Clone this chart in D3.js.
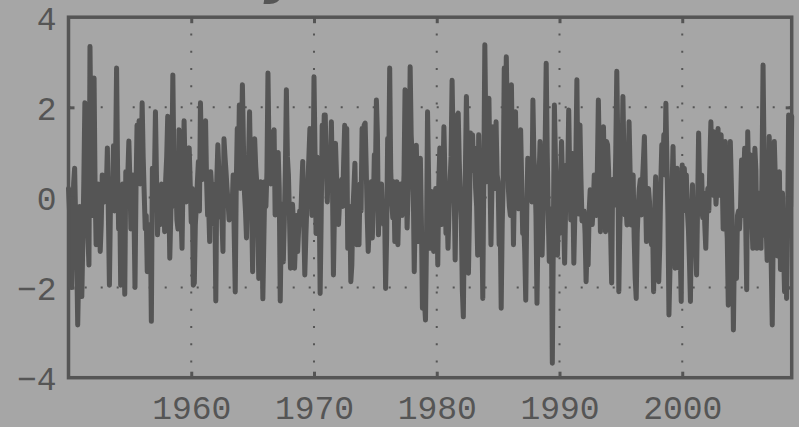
<!DOCTYPE html>
<html>
<head>
  <meta charset="utf-8">
  <title>Monthly index 1950-2008</title>
  <style>
    html, body {
      margin: 0;
      padding: 0;
      background: #a6a6a6;
      overflow: hidden;
    }
    svg { display: block; }
    .tick text {
      font-family: "Liberation Mono", monospace;
      font-size: 33px;
      fill: #555;
    }
  </style>
</head>
<body>
  <svg id="chart" width="799" height="427"></svg>

  <script src="https://d3js.org/d3.v7.min.js"></script>
  <script>
    // monthly values, one row per year (Jan..Dec)
    const v1950s = [
      0.2, -0.3, 0.1, -2.0, -0.8, 0.3, 0.65, -0.5, -1.2, -2.83, -1.6, -0.2,
      -0.6, -2.2, -1.0, 0.4, 2.1, 0.8, -0.3, -0.9, -1.5, 3.35, 1.2, -0.4,
      0.6, 2.65, 0.2, -1.05, -0.5, 0.3, -0.2, -1.2, -0.6, 0.5, 0.1, -0.1,
      0.3, 0.2, 1.1, -0.4, -1.95, -0.2, 0.4, 0.1, 1.15, -0.3, 0.8, 2.87,
      0.6, -0.7, 0.2, -1.95, -0.6, 0.3, -0.9, -2.15, 0.57, -0.1, 0.5, 1.25,
      0.4, -0.7, -0.2, 0.5, -0.3, -2.0, 0.2, 1.6, 0.9, 1.7, 0.3, 0.6,
      2.1, 0.9, 0.1, -0.7, -0.4, -1.65, -0.8, -1.3, -0.6, -2.75, 0.65, -0.2,
      0.4, 1.9, 0.5, -0.83, -0.2, 0.1, -0.6, 0.3, -0.5, 0.1, -0.76, 0.4,
      0.9, 1.8, 0.2, -1.35, -0.4, 0.6, 2.72, 0.8, -0.2, 0.3, -0.5, -0.7,
      1.5, 0.2, -0.4, -1.13, 0.5, 1.7, 0.6, -0.1, 0.4, 0.8, 1.1, 0.3
    ];
    const v1960s = [
      -0.55, 0.2, -1.95, -1.9, -0.6, -0.2, 0.35, 0.8, -0.3, 2.1, 0.9, 0.4,
      0.6, 1.0, 1.7, 0.35, -0.4, -0.2, -0.98, 0.57, 0.2, 0.3, -0.6, 0.1,
      -2.3, 0.4, 1.17, 0.6, 0.35, -0.4, -0.5, -1.2, 1.3, 0.9, 0.57, 0.2,
      -0.1, -0.5, -0.17, -0.3, -0.17, 0.5, -0.8, -2.1, 0.3, 1.53, 0.4, 2.05,
      0.2, 0.9, 2.5, 1.2, 0.1, -0.3, -0.9, 0.4, 0.8, 1.9, 0.6, -0.2,
      -1.65, 0.3, 1.3, 0.7, 0.35, -0.5, -1.8, -0.4, 0.35, -0.6, -2.25, -0.9,
      0.35, -0.2, 0.57, 2.76, 1.1, 0.4, 0.3, 1.46, 0.5, 1.5, -0.39, -0.1,
      0.3, 1.0, 0.2, -2.3, -0.6, -0.15, -1.43, -0.5, 0.6, 2.39, 0.9, 0.5,
      -0.4, -1.57, -0.7, -0.15, -0.6, -1.57, -0.9, -0.4, -1.2, -0.7, -0.3, -0.5,
      0.2, 0.8, -0.6, -1.72, -0.9, -0.2, 0.3, 0.9, 1.53, 0.6, -0.4, 0.3
    ];
    const v1970s = [
      2.68, 1.0, -0.8, 0.9, -0.3, 0.2, -2.13, -0.5, 1.6, 0.6, 1.83, 1.83,
      0.7, -0.1, 0.8, 0.2, 0.65, 1.68, 0.4, -1.72, -0.3, 1.2, 0.5, -0.4,
      -0.6, -0.1, 0.05, 0.4, -0.2, 0.8, 1.6, 0.7, 1.53, -1.13, -0.5, -0.2,
      -1.87, -1.5, -0.3, 0.2, 0.76, -0.6, -1.05, -0.4, -1.05, 0.3, -0.3, 1.53,
      0.5, 1.6, 1.65, 0.7, -0.4, -1.2, -0.6, 0.2, 0.35, -0.9, -0.2, 0.95,
      0.4, 2.16, 1.4, -0.83, 0.2, -0.4, 0.3, -0.4, -0.6, -0.2, -2.02, -0.9,
      1.31, 0.4, 2.87, 0.6, -0.1, -0.45, 0.35, -0.98, -0.3, 0.35, -1.05, -0.1,
      -0.1, 0.3, -0.4, -0.1, 0.5, 2.39, 1.2, -0.68, 0.1, 0.6, 2.9, 1.39,
      0.87, 0.3, -1.65, -0.2, 1.16, 0.2, -0.98, -0.1, 0.87, -0.5, -2.46, -1.8,
      -2.3, -2.72, -0.9, 1.9, 0.5, -1.13, 0.1, 0.13, -0.5, -1.2, -0.3, 0.2
    ];
    const v1980s = [
      0.05, -1.5, 0.3, 1.1, -0.1, -0.6, 0.4, 1.57, 0.5, -0.8, -0.2, -1.13,
      -0.3, 0.35, 0.9, 2.6, 1.2, 0.2, -1.39, 0.3, 1.83, 1.87, 0.8, 0.0,
      -0.5, -2.05, -2.65, -0.4, 0.6, 2.24, 0.9, -1.68, -0.3, 1.43, 0.7, 1.39,
      0.6, 1.1, 0.2, -0.2, -1.28, 1.39, 0.4, -0.8, -0.3, -2.24, 0.5, 3.39,
      1.5, 0.35, 0.8, 2.2, 0.6, -1.05, 0.3, 1.57, 0.9, 0.2, 1.68, 0.5,
      0.35, -1.05, -0.4, -2.46, -0.6, 0.4, 2.87, 1.4, 3.12, 1.6, 0.2, -0.2,
      -0.4, 2.5, 0.8, -1.05, 0.3, 1.9, 0.35, -0.2, -0.25, 0.6, 1.5, 0.4,
      -0.8, -0.5, -1.2, -2.28, -0.3, 0.87, 0.3, 0.5, 0.35, -0.1, 2.16, 0.9,
      0.5, -0.4, -2.35, -0.6, 0.4, 1.24, 0.2, -1.28, -0.3, 0.35, 1.2, 2.98,
      1.0, -0.39, -1.42, -0.5, -0.25, -3.68, -0.8, 2.05, 0.9, -0.1, -1.28, -0.25
    ];
    const v1990s = [
      -0.8, 0.4, 1.24, 0.3, -0.39, -1.46, -0.2, 0.72, 0.4, 1.94, 0.5, -0.5,
      0.98, 0.2, -1.46, -0.4, 0.9, 2.61, 0.3, -0.37, 1.61, 0.4, -0.52, -0.3,
      -0.3, -0.8, -1.87, -1.1, -1.5, -0.3, 0.17, -0.6, -0.6, -0.2, 0.5, -0.2,
      -0.4, 0.6, 2.16, 0.8, -0.76, 0.94, 0.2, 1.57, 0.3, -0.76, 1.24, 1.17,
      0.6, -0.4, -0.8, -1.9, 0.4, 0.2, -0.17, 1.0, 2.8, 1.2, -2.09, -0.6,
      -0.1, 0.6, 2.24, 0.9, -0.39, -0.2, -0.61, 0.4, 1.68, 0.6, -0.61, -0.1,
      0.5, -0.9, -1.8, -2.24, -0.8, -0.17, 0.2, 0.39, -0.39, 0.3, 0.8, 1.35,
      0.2, -0.98, -0.2, 0.2, -0.1, -0.9, -1.05, -0.6, -2.09, -0.3, 0.46, -0.4,
      -0.8, -1.87, -1.1, 0.3, 1.17, 0.6, 1.39, 0.5, 2.09, 0.8, -0.4, -2.61,
      -1.6, -0.3, 0.2, 1.13, -0.2, -1.57, 0.3, 0.65, -0.6, -1.57, -1.2, -2.31
    ];
    const v2000s = [
      0.72, -0.3, 0.65, 0.1, 0.5, -0.3, -0.7, -1.4, -2.31, -0.5, 0.28, -0.98,
      -0.4, -1.0, -1.72, -0.2, 1.43, 0.2, -0.37, 0.5, -0.45, 0.1, -0.6, -1.13,
      -0.2, 0.2, -0.3, 0.8, 1.68, 0.5, 0.05, 1.46, 0.4, -0.15, 0.3, 1.53,
      0.05, 0.6, 1.39, 0.5, -0.7, 0.9, 1.24, -0.5, -0.9, -2.39, -0.4, 1.24,
      0.3, -0.7, -2.94, -1.1, -0.9, -1.8, -0.4, -0.3, -0.7, -0.2, 0.83, -0.4,
      0.3, 1.09, -0.5, -2.05, 1.46, 0.3, 0.4, 0.94, -0.5, -1.13, 0.2, 1.09,
      0.6, -1.13, -0.6, -0.2, 0.1, -1.13, 0.6, 2.94, 0.9, -0.85, -0.6, -1.4,
      -0.4, 1.35, 0.5, -1.5, -2.83, -0.6, 1.24, 0.4, 0.2, -1.3, -0.5, 0.57,
      -1.6, -0.8, 0.1, -1.1, -2.09, -0.3, -2.24, -0.7, 1.83, 1.2, -0.2, 1.8
    ];

    const startYear = 1950;
    const xTicks = [1960, 1970, 1980, 1990, 2000];
    const yTicks = [-4, -2, 0, 2, 4];
    const yGrid = [-2, 0, 2];

    const values = [].concat(v1950s, v1960s, v1970s, v1980s, v1990s, v2000s);
    const series = values.map((v, i) => ({ t: startYear + i / 12, v: v }));

    const ink = "#555";
    const plotL = 68.5, plotR = 791.7, plotT = 17.2, plotB = 377.7;

    const svg = d3.select("#chart");

    const x = d3.scaleLinear()
      .domain([startYear, series[series.length - 1].t])
      .range([plotL, plotR]);
    const y = d3.scaleLinear()
      .domain([-4, 4])
      .range([plotB, plotT]);

    // title sits above the visible area, only a descender peeks in
    svg.append("text")
      .attr("x", 300)
      .attr("y", -8)
      .attr("text-anchor", "end")
      .attr("font-family", "DejaVu Sans")
      .attr("font-weight", "bold")
      .attr("font-style", "italic")
      .attr("font-size", 56)
      .attr("fill", ink)
      .text("Monthly");

    // dotted grid
    svg.append("g").selectAll("line")
      .data(xTicks)
      .enter().append("line")
      .attr("x1", d => x(d)).attr("x2", d => x(d))
      .attr("y1", plotT - 0.8).attr("y2", plotB)
      .attr("stroke", ink)
      .attr("stroke-width", 2)
      .attr("stroke-dasharray", "2,15.2");
    svg.append("g").selectAll("line")
      .data(yGrid)
      .enter().append("line")
      .attr("x1", plotL + 0.2).attr("x2", plotR)
      .attr("y1", d => y(d)).attr("y2", d => y(d))
      .attr("stroke", ink)
      .attr("stroke-width", 2)
      .attr("stroke-dasharray", "2,14");

    // the series
    const line = d3.line()
      .x(d => x(d.t))
      .y(d => y(d.v));
    svg.append("path")
      .datum(series)
      .attr("fill", "none")
      .attr("stroke", ink)
      .attr("stroke-width", 5)
      .attr("stroke-linejoin", "round")
      .attr("stroke-linecap", "round")
      .attr("d", line);

    // frame
    svg.append("rect")
      .attr("x", plotL).attr("y", plotT)
      .attr("width", plotR - plotL).attr("height", plotB - plotT)
      .attr("fill", "none")
      .attr("stroke", ink)
      .attr("stroke-width", 3.5);

    // inward ticks on all four sides
    function styleTicks(g) {
      g.select(".domain").remove();
      g.selectAll(".tick line").attr("stroke", ink).attr("stroke-width", 3);
    }
    svg.append("g")
      .attr("transform", `translate(0,${plotB})`)
      .call(d3.axisBottom(x).tickValues(xTicks).tickSize(-6).tickFormat(""))
      .call(styleTicks);
    svg.append("g")
      .attr("transform", `translate(0,${plotT})`)
      .call(d3.axisTop(x).tickValues(xTicks).tickSize(-6).tickFormat(""))
      .call(styleTicks);
    svg.append("g")
      .attr("transform", `translate(${plotL},0)`)
      .call(d3.axisLeft(y).tickValues(yGrid).tickSize(-6).tickFormat(""))
      .call(styleTicks);
    svg.append("g")
      .attr("transform", `translate(${plotR},0)`)
      .call(d3.axisRight(y).tickValues(yGrid).tickSize(-6).tickFormat(""))
      .call(styleTicks);

    // tick labels
    const xLab = svg.append("g")
      .attr("transform", `translate(0,${plotB})`)
      .call(d3.axisBottom(x).tickValues(xTicks).tickSize(0).tickPadding(0).tickFormat(d3.format("d")));
    xLab.select(".domain").remove();
    xLab.selectAll(".tick text")
      .attr("dy", null)
      .attr("y", 41.5);

    const yLab = svg.append("g")
      .attr("transform", `translate(${plotL},0)`)
      .call(d3.axisLeft(y).tickValues(yTicks).tickSize(0).tickPadding(0).tickFormat(d3.format("d")));
    yLab.select(".domain").remove();
    yLab.selectAll(".tick text")
      .attr("dy", null)
      .attr("x", -12)
      .attr("y", 12);
  </script>
</body>
</html>
